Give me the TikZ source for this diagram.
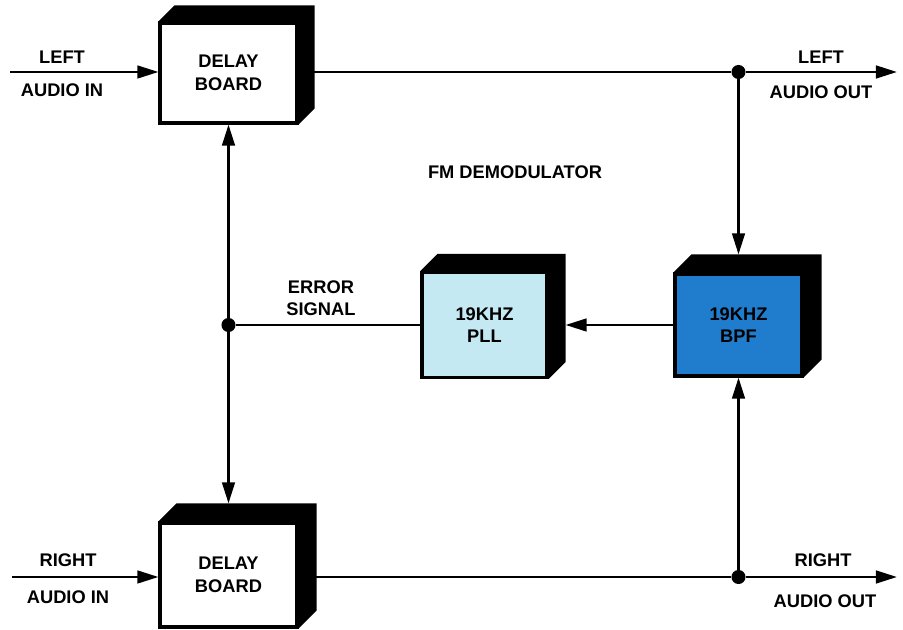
\documentclass[tikz,border=0pt]{standalone}
\usepackage{fontspec}
\setmainfont{Liberation Sans}
\usetikzlibrary{arrows.meta, positioning, calc}

\definecolor{pllcyan}{RGB}{196,233,243}
\definecolor{bpfblue}{RGB}{32,124,204}

\tikzset{
    board/.style={draw, line width=2.2pt, fill=white, align=center,
        inner sep=0pt, font=\bfseries\fontsize{13}{16}\selectfont},
    sig/.style={line width=1.8pt},
    arr/.style={sig, -{Triangle[length=15pt, width=9pt]}},
    lbl/.style={align=center, font=\bfseries\fontsize{13}{15.5}\selectfont},
    dot/.style={circle, fill, inner sep=0pt, minimum size=10pt}
}

\begin{document}
\begin{tikzpicture}[x=0.025cm, y=0.025cm]
    \useasboundingbox (0,0) rectangle (903,630);

    % DELAY BOARDS
    \node[board, minimum width=3.425cm, minimum height=2.5cm]
        (topboard) at (228.5,557) {DELAY\\BOARD};
    \node[board, minimum width=3.425cm, minimum height=2.6cm]
        (botboard) at (228.5,55) {DELAY\\BOARD};

    % PLL AND BPF
    \node[board, fill=pllcyan, minimum width=3.125cm, minimum height=2.625cm]
        (pll) at (484.5,305) {19KHZ\\PLL};
    \node[board, fill=bpfblue, minimum width=3.175cm, minimum height=2.55cm]
        (bpf) at (738.5,305) {19KHZ\\BPF};

    % DEPTH OF THE BOXES
    \foreach \n/\dd in {topboard/16, botboard/18, pll/17, bpf/18}
        \fill (\n.north west) -- ++(\dd,\dd)
            -- ($(\n.north east)+(\dd,\dd)$) -- ($(\n.south east)+(\dd,\dd)$)
            -- (\n.south east) -- (\n.north east) -- cycle;

    % INPUT AND OUTPUT ENDS
    \coordinate (lin) at (10,558);
    \coordinate (rin) at (12,53);
    \coordinate (lout) at (897,558);
    \coordinate (rout) at (897,53);

    % JUNCTIONS
    \node[dot] (tdot) at (bpf.north |- lin) {};
    \node[dot] (bdot) at (bpf.south |- rin) {};
    \node[dot] (edot) at (topboard.south |- pll.west) {};

    % AUDIO PATHS
    \draw[arr] (lin) -- (lin -| topboard.west);
    \draw[arr] (rin) -- (rin -| botboard.west);
    \draw[sig] (lin -| topboard.east) -- (tdot);
    \draw[arr] (tdot) -- (lout);
    \draw[sig] (rin -| botboard.east) -- (bdot);
    \draw[arr] (bdot) -- (rout);

    % PILOT AND ERROR SIGNAL
    \draw[arr] (tdot) -- ($(bpf.north)+(0,18)$);
    \draw[arr] (bdot) -- (bpf.south);
    \draw[arr] (bpf.west) -- ($(pll.east)+(17,0)$);
    \draw[sig] (pll.west) -- (edot);
    \draw[arr] (edot) -- (topboard.south);
    \draw[arr] (edot) -- ($(botboard.north)+(0,18)$);

    % LABELS
    \node[lbl] (linl) at (62,573) {LEFT};
    \node[lbl] (linm) at (62,540) {AUDIO IN};
    \node[lbl] (rinl) at (68,70) {RIGHT};
    \node[lbl] (rinm) at (68,33) {AUDIO IN};
    \node[lbl] (loutl) at (821,573) {LEFT};
    \node[lbl] (loutm) at (821,538) {AUDIO OUT};
    \node[lbl] (routl) at (823,70) {RIGHT};
    \node[lbl] (routm) at (825,29) {AUDIO OUT};
    \node[lbl] (errl) at (321,332) {ERROR\\SIGNAL};
    \node[lbl] (fmdemod) at (515,458) {FM DEMODULATOR};

\end{tikzpicture}
\end{document}
